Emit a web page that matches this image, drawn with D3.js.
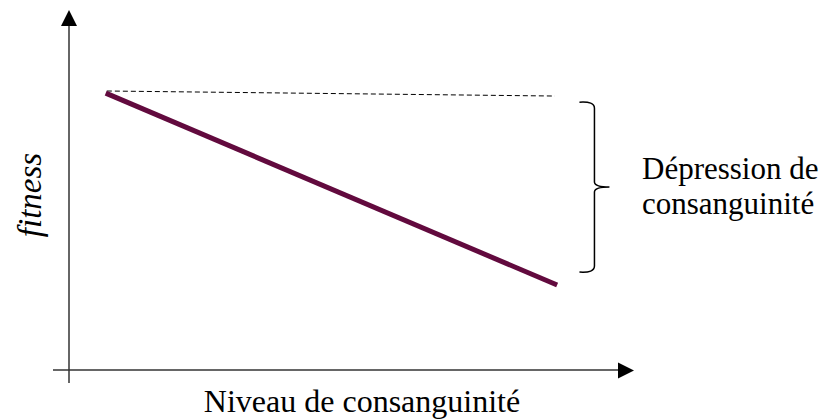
<!DOCTYPE html>
<html><head><meta charset="utf-8">
<script src="https://cdn.jsdelivr.net/npm/d3@7"></script>
<style>html,body{margin:0;padding:0;background:#fff;}svg{display:block;}</style>
</head><body>
<svg id="chart" width="824" height="419"></svg>
<script>
// Conceptual data (axis units 0-100)
const inbreedingLevel = [6.5, 86.4];      // x: niveau de consanguinité
const fitnessValues = [76.9, 23.6];        // y: fitness
const referenceLevel = [[6.7, 77.5], [86.0, 76.1]]; // dashed reference line
const braceRange = [74.4, 27.2];            // extent of the depression brace
const braceX = 93;                           // brace position on x (units)
const xLabel = "Niveau de consanguinité";
const yLabel = "fitness";
const braceLabel = ["Dépression de", "consanguinité"];

(function () {
const svg = d3.select("#chart");
const x = d3.scaleLinear().domain([0, 100]).range([69, 634]);
const y = d3.scaleLinear().domain([0, 100]).range([370, 10]);

const axisColor = "#333";
// Y axis
svg.append("line").attr("x1", x(0)).attr("x2", x(0)).attr("y1", 383).attr("y2", y(100) + 14)
  .attr("stroke", axisColor).attr("stroke-width", 1.5);
svg.append("path").attr("d", `M${x(0)},${y(100)} L${x(0)-8},${y(100)+16} L${x(0)+8},${y(100)+16} Z`).attr("fill", "#000");
// X axis
svg.append("line").attr("x1", 53).attr("x2", x(100) - 14).attr("y1", y(0)).attr("y2", y(0))
  .attr("stroke", axisColor).attr("stroke-width", 1.5);
svg.append("path").attr("d", `M${x(100)},${y(0)+0.5} L${x(100)-16},${y(0)-7.5} L${x(100)-16},${y(0)+8.5} Z`).attr("fill", "#000");

// Dashed reference
svg.append("line")
  .attr("x1", x(referenceLevel[0][0])).attr("y1", y(referenceLevel[0][1]))
  .attr("x2", x(referenceLevel[1][0])).attr("y2", y(referenceLevel[1][1]))
  .attr("stroke", "#000").attr("stroke-width", 1).attr("stroke-dasharray", "5,3");

// Main line
const pts = inbreedingLevel.map((d, i) => [x(d), y(fitnessValues[i])]);
svg.append("path").attr("d", d3.line()(pts))
  .attr("fill", "none").attr("stroke", "#620a3e").attr("stroke-width", 5);

// Brace
const bx = x(braceX), bTop = y(braceRange[0]), bBot = y(braceRange[1]);
const mid = (bTop + bBot) / 2;
const bw = 15;
const bracePath = `M${bx-bw},${bTop} Q${bx},${bTop-1} ${bx},${bTop+6} L${bx},${mid-5} Q${bx},${mid} ${bx+bw},${mid} Q${bx},${mid} ${bx},${mid+5} L${bx},${bBot-6} Q${bx},${bBot+1} ${bx-bw},${bBot}`;
svg.append("path").attr("d", bracePath).attr("fill", "none").attr("stroke", "#000").attr("stroke-width", 1.5);

const font = "'Liberation Serif', 'Times New Roman', serif";
// Brace label
svg.append("text").attr("x", 642).attr("y", 179).attr("font-family", font).attr("font-size", 31)
  .selectAll("tspan").data(braceLabel).join("tspan")
  .attr("x", 642).attr("dy", (d, i) => i === 0 ? 0 : 35).text(d => d);

// X label
svg.append("text").attr("x", 362).attr("y", 412).attr("text-anchor", "middle")
  .attr("font-family", font).attr("font-size", 32).text(xLabel);
// Y label
svg.append("text").attr("transform", "translate(41,195) rotate(-90)").attr("text-anchor", "middle")
  .attr("font-family", font).attr("font-style", "italic").attr("font-size", 33).text(yLabel);
})();
</script>
</body></html>
